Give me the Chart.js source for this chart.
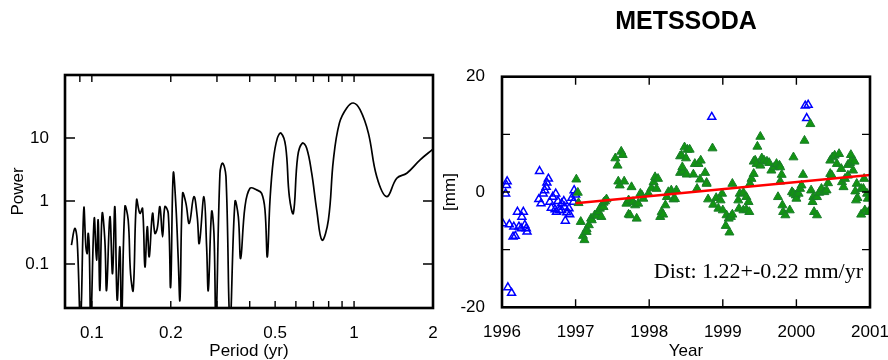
<!DOCTYPE html>
<html>
<head>
<meta charset="utf-8">
<script src="https://cdn.jsdelivr.net/npm/chart.js@4.4.1/dist/chart.umd.min.js"></script>
<style>
  html, body { margin: 0; padding: 0; background: #fff; }
  #wrap { position: relative; width: 888px; height: 360px; overflow: hidden; }
  #periodogram { position: absolute; left: 0; top: 0; }
  #serie { position: absolute; left: 440px; top: 0; }
</style>
</head>
<body>
<div id="wrap">
  <canvas id="periodogram" width="440" height="360" style="width:440px;height:360px"></canvas>
  <canvas id="serie" width="448" height="360" style="width:448px;height:360px"></canvas>
</div>
<script>
'use strict';

/* ── Periodograma (izquierda) ─────────────────────────────────────────── */
const periodYr = [
  0.0836, 0.0861, 0.0879, 0.0905, 0.0932, 0.0949, 0.0960, 0.0968, 0.0977, 0.0991,
  0.1021, 0.1042, 0.1057, 0.1073, 0.1095, 0.1121, 0.1138, 0.1172, 0.1199, 0.1224,
  0.1249, 0.1279, 0.1298, 0.1337, 0.1376, 0.1405, 0.1438, 0.1481, 0.1525, 0.1561,
  0.1594, 0.1627, 0.1655, 0.1704, 0.1740, 0.1776, 0.1818, 0.1861, 0.1899, 0.1956,
  0.1997, 0.2044, 0.2093, 0.2136, 0.2168, 0.2219, 0.2285, 0.2352, 0.2450, 0.2523,
  0.2569, 0.2676, 0.2740, 0.2780, 0.2863, 0.2922, 0.2974, 0.3080, 0.3153, 0.3247,
  0.3364, 0.3515, 0.3619, 0.3694, 0.3837, 0.4010, 0.4251, 0.4442, 0.4574, 0.4669,
  0.4780, 0.4922, 0.5098, 0.5265, 0.5485, 0.5665, 0.5867, 0.6095, 0.6350, 0.6597,
  0.6894, 0.7204, 0.7550, 0.7980, 0.834, 0.879, 0.938, 0.994, 1.054, 1.134,
  1.220, 1.332, 1.455, 1.589, 1.786, 2.0
];
const powerVal = [
  0.199, 0.367, 0.239, 0.012, 0.764, 0.187, 0.147, 0.306, 0.199, 0.012,
  0.530, 0.115, 0.498, 0.038, 0.636, 0.239, 0.038, 0.563, 0.070, 0.812,
  0.027, 0.187, 0.012, 0.812, 0.498, 0.070, 0.038, 1.04, 0.636, 0.764,
  0.090, 0.390, 0.130, 0.636, 0.306, 0.367, 0.812, 0.270, 0.812, 0.636,
  0.043, 2.76, 0.812, 0.115, 0.027, 1.32, 0.918, 0.441, 1.17, 0.563,
  0.212, 1.17, 0.187, 0.038, 0.676, 0.306, 0.012, 2.76, 3.98, 2.44,
  0.012, 0.976, 0.563, 0.122, 0.812, 1.59, 1.50, 1.32, 0.719, 0.130,
  1.04, 4.50, 9.95, 11.96, 7.33, 1.17, 0.636, 5.08, 8.28, 6.90,
  2.76, 0.719, 0.239, 0.498, 4.50, 17.2, 29.9, 35.9, 28.1, 11.96,
  2.44, 1.17, 2.30, 2.76, 4.50, 6.65
];
const periodTicks  = [0.09, 0.1, 0.2, 0.3, 0.4, 0.5, 0.6, 0.7, 0.8, 0.9, 1, 2];
const periodLabels = [0.1, 0.2, 0.5, 1, 2];
const powerTicks   = [0.1, 1, 10];

/* ── Serie temporal (derecha) ─────────────────────────────────────────── */
const yearsBlue = [
  1996.07, 1996.06, 1996.05, 1996.01, 1996.10, 1996.16, 1996.21, 1996.29, 1996.23, 1996.27,
  1996.26, 1996.31, 1996.33, 1996.34, 1996.15, 1996.18, 1996.08, 1996.13, 1996.51, 1996.63,
  1996.61, 1996.60, 1996.58, 1996.56, 1996.50, 1996.53, 1996.65, 1996.69, 1996.73, 1996.67,
  1996.72, 1996.76, 1996.78, 1996.81, 1996.84, 1996.85, 1996.88, 1996.91, 1996.92, 1996.95,
  1996.97, 1996.98, 1997.00, 1996.86, 1996.74, 1996.81, 1998.85, 2000.12, 2000.16, 2000.14
];
const mmBlue = [
  1.84, 1.16, -0.28, -5.45, -5.63, -6.03, -3.45, -3.45, -6.03, -4.31,
  -6.32, -5.74, -6.32, -6.90, -7.76, -7.64, -16.55, -17.52, 3.62, 2.30,
  1.61, 0.86, 0.29, -0.28, -1.26, -2.00, -1.72, -0.86, -0.28, -2.76,
  -3.04, -1.60, -3.16, -2.00, -1.60, -2.59, -3.56, -2.87, -3.90, -1.03,
  -1.72, 0.29, -0.46, -5.00, -3.45, -3.16, 13.0, 14.95, 15.1, 12.8
];
const yearsGreen = [
  1997.01, 1997.03, 1997.04, 1997.07, 1997.10, 1997.12, 1997.15, 1997.18, 1997.21, 1997.15,
  1997.22, 1997.26, 1997.29, 1997.31, 1997.33, 1997.35, 1997.38, 1997.38, 1997.40, 1997.42,
  1997.54, 1997.57, 1997.62, 1997.64, 1997.58, 1997.60, 1997.66, 1997.69, 1997.72, 1997.72,
  1997.74, 1997.76, 1997.78, 1997.81, 1997.83, 1997.85, 1997.88, 1997.90, 1997.92, 1997.99,
  1998.03, 1998.06, 1998.08, 1998.12, 1998.10, 1998.15, 1998.17, 1998.19, 1998.22, 1998.24,
  1998.26, 1998.30, 1998.33, 1998.35, 1998.37, 1998.42, 1998.42, 1998.46, 1998.48, 1998.44,
  1998.50, 1998.52, 1998.55, 1998.45, 1998.51, 1998.60, 1998.62, 1998.67, 1998.70, 1998.69,
  1998.76, 1998.78, 1998.78, 1998.65, 1998.86, 1998.80, 1998.87, 1998.91, 1998.94, 1998.97,
  1998.99, 1999.00, 1999.04, 1999.05, 1999.08, 1999.09, 1999.11, 1999.13, 1999.13, 1999.21,
  1999.23, 1999.28, 1999.32, 1999.35, 1999.22, 1999.28, 1999.32, 1999.36, 1999.37, 1999.39,
  1999.42, 1999.42, 1999.44, 1999.47, 1999.51, 1999.46, 1999.51, 1999.53, 1999.56, 1999.60,
  1999.63, 1999.66, 1999.70, 1999.73, 1999.77, 1999.75, 2000.19, 2000.11, 1999.96, 1999.78,
  1999.80, 1999.78, 1999.81, 1999.82, 1999.85, 1999.91, 1999.94, 1999.96, 1999.99, 2000.00,
  2000.03, 2000.05, 2000.07, 2000.09, 2000.20, 2000.23, 2000.24, 2000.28, 2000.22, 2000.28,
  2000.31, 2000.34, 2000.38, 2000.41, 2000.43, 2000.46, 2000.48, 2000.46, 2000.49, 2000.52,
  2000.55, 2000.58, 2000.61, 2000.62, 2000.64, 2000.66, 2000.70, 2000.70, 2000.73, 2000.75,
  2000.74, 2000.79, 2000.77, 2000.80, 2000.82, 2000.83, 2000.81, 2000.88, 2000.91, 2000.92,
  2000.88, 2000.93, 2000.96, 2000.97, 2000.98
];
const mmGreen = [
  2.19, -0.11, -1.90, -5.17, -7.59, -8.33, -6.43, -5.74, -4.60, -6.90,
  -4.88, -4.02, -4.10, -3.45, -2.87, -4.31, -2.59, -1.83, -1.60, -1.26,
  5.86, 4.60, 7.02, 6.44, 1.84, 1.16, 1.84, -2.00, -1.43, -3.90,
  -4.02, 0.86, -1.72, -2.29, -4.60, -2.00, -0.28, -0.57, -1.14, -0.28,
  0.69, 1.72, 2.59, 2.30, 0.57, -4.31, -3.45, -3.90, -2.29, -0.86,
  0.00, 0.29, -1.26, -1.20, 0.29, 6.21, 3.34, 3.56, 7.76, 6.33,
  5.86, 7.36, 7.36, 4.31, 3.05, 3.05, 4.89, 4.89, 5.47, 2.19,
  3.34, 1.61, 1.44, 0.57, 7.59, -1.26, -2.18, -1.03, -2.87, -1.43,
  -0.28, -3.16, -5.86, -4.02, -4.60, -7.00, -4.30, -3.90, 1.44, -1.43,
  -0.28, -0.11, -0.86, -1.72, -2.87, -3.16, -3.04, -3.45, 1.44, 2.30,
  3.16, 5.29, 5.47, 7.88, 9.60, 4.89, 4.60, 5.86, 5.47, 5.29,
  5.06, 3.74, 4.31, 4.89, 4.60, -0.86, 11.8, 8.91, 6.03, 4.31,
  3.00, 1.84, -2.29, -3.45, -4.02, -3.16, 0.00, -0.28, -0.57, -1.14,
  -0.28, 0.57, 1.16, 3.00, 0.29, -0.86, -3.45, -4.02, -1.72, -0.86,
  -0.11, 0.57, 0.00, 0.29, 1.55, 3.16, 2.90, 5.47, 6.03, 6.33,
  4.89, 6.61, 4.02, 1.72, 0.86, 2.30, 2.87, 4.72, 5.06, 5.47,
  6.44, 5.29, 3.74, 0.12, 1.44, -1.03, -1.43, 0.57, 0.57, 2.30,
  -3.90, -3.16, -0.28, -1.14, -3.45
];
const trendYears = [1997, 2001];
const trendMm    = [-1.95, 2.93];
const rateLabel  = 'Dist: 1.22+-0.22 mm/yr';

/* ── Estilo común ─────────────────────────────────────────────────────── */
Chart.defaults.font.family = '"Liberation Sans", Arial, sans-serif';
Chart.defaults.font.size = 17;
Chart.defaults.color = '#000';

const toXY = (xs, ys) => xs.map((x, i) => ({ x, y: ys[i] }));

// Sin relleno lateral por las etiquetas extremas: el área queda fija
const sinRelleno = s => { s.paddingLeft = 0; s.paddingRight = 0; };

// Marco grueso + ticks hacia dentro en los cuatro lados
const marcoTicks = {
    id: 'marcoTicks',
    afterDatasetsDraw(chart, args, opts) {
        const { ctx, chartArea: a } = chart;
        const sx = chart.scales.x, sy = chart.scales.y;
        ctx.save();
        ctx.strokeStyle = '#000';
        ctx.lineWidth = 1.4;
        ctx.beginPath();
        sx.ticks.forEach(t => {
            const px = sx.getPixelForValue(t.value);
            if (px <= a.left + 1 || px >= a.right - 1) return;
            ctx.moveTo(px, a.top);    ctx.lineTo(px, a.top + opts.xLen);
            ctx.moveTo(px, a.bottom); ctx.lineTo(px, a.bottom - opts.xLen);
        });
        sy.ticks.forEach(t => {
            const py = sy.getPixelForValue(t.value);
            if (py <= a.top + 1 || py >= a.bottom - 1) return;
            ctx.moveTo(a.left, py);  ctx.lineTo(a.left + opts.yLen, py);
            ctx.moveTo(a.right, py); ctx.lineTo(a.right - opts.yLen, py);
        });
        ctx.stroke();
        ctx.lineWidth = 2.6;
        ctx.strokeRect(a.left, a.top, a.right - a.left, a.bottom - a.top);
        ctx.restore();
    }
};

// Texto de la tasa dentro del gráfico
const textoTasa = {
    id: 'textoTasa',
    afterDraw(chart, args, opts) {
        const { ctx, chartArea: a } = chart;
        ctx.save();
        ctx.font = '22px "Liberation Serif", "Times New Roman", serif';
        ctx.fillStyle = '#000';
        ctx.textAlign = 'right';
        ctx.textBaseline = 'alphabetic';
        ctx.fillText(opts.text, a.right - 7, a.bottom - 29);
        ctx.restore();
    }
};

/* ── Gráfico izquierdo: Power vs Period ───────────────────────────────── */
new Chart(document.getElementById('periodogram'), {
    type: 'scatter',
    data: {
        datasets: [{
            data: toXY(periodYr, powerVal),
            showLine: true,
            borderColor: '#000',
            borderWidth: 1.7,
            pointRadius: 0,
            tension: 0.4
        }]
    },
    options: {
        responsive: false,
        animation: false,
        layout: { padding: { top: 75, right: 7, left: 0, bottom: 0 } },
        plugins: {
            legend: { display: false },
            tooltip: { enabled: false },
            marcoTicks: { xLen: 7, yLen: 10 }
        },
        scales: {
            x: {
                type: 'logarithmic',
                min: 0.079,
                max: 2,
                grid: { display: false },
                border: { display: false },
                afterBuildTicks: s => { s.ticks = periodTicks.map(v => ({ value: v })); },
                afterFit: s => { s.height = 52; sinRelleno(s); },
                ticks: {
                    autoSkip: false,
                    maxRotation: 0,
                    padding: 7,
                    callback: v => periodLabels.includes(v) ? String(v) : ''
                },
                title: {
                    display: true,
                    text: 'Period (yr)',
                    font: { size: 17, lineHeight: 1 },
                    padding: { top: 0, bottom: 0 }
                }
            },
            y: {
                type: 'logarithmic',
                min: 0.02,
                max: 100,
                grid: { display: false },
                border: { display: false },
                afterBuildTicks: s => { s.ticks = powerTicks.map(v => ({ value: v })); },
                afterFit: s => { s.width = 65; },
                ticks: {
                    padding: 8,
                    callback: v => String(v)
                },
                title: {
                    display: true,
                    text: 'Power',
                    font: { size: 17, lineHeight: 1 },
                    padding: { top: 10, bottom: 0 }
                }
            }
        }
    },
    plugins: [marcoTicks]
});

/* ── Gráfico derecho: serie METSSODA ──────────────────────────────────── */
new Chart(document.getElementById('serie'), {
    type: 'scatter',
    data: {
        datasets: [
            {
                data: toXY(trendYears, trendMm),
                showLine: true,
                borderColor: '#ff0000',
                borderWidth: 2.5,
                pointRadius: 0
            },
            {
                data: toXY(yearsGreen, mmGreen),
                pointStyle: 'triangle',
                pointRadius: 5.2,
                pointBackgroundColor: '#129412',
                pointBorderColor: '#1a7d2a',
                pointBorderWidth: 1
            },
            {
                data: toXY(yearsBlue, mmBlue),
                pointStyle: 'triangle',
                pointRadius: 4.6,
                pointBackgroundColor: 'rgba(255,255,255,0)',
                pointBorderColor: '#0000ff',
                pointBorderWidth: 1.5
            }
        ]
    },
    options: {
        responsive: false,
        animation: false,
        layout: { padding: { top: 0, right: 18, left: 0, bottom: 0 } },
        plugins: {
            legend: { display: false },
            tooltip: { enabled: false },
            title: {
                display: true,
                text: 'METSSODA',
                fullSize: false,
                font: { size: 25, weight: 'bold', lineHeight: 1 },
                color: '#000',
                padding: { top: 10, bottom: 41.7 }
            },
            marcoTicks: { xLen: 8, yLen: 8 },
            textoTasa: { text: rateLabel }
        },
        scales: {
            x: {
                type: 'linear',
                min: 1996,
                max: 2001,
                grid: { display: false },
                border: { display: false },
                afterFit: s => { s.height = 52.7; sinRelleno(s); },
                ticks: {
                    stepSize: 1,
                    maxRotation: 0,
                    padding: 7,
                    callback: v => String(v)
                },
                title: {
                    display: true,
                    text: 'Year',
                    font: { size: 17, lineHeight: 1 },
                    padding: { top: 0, bottom: 0 }
                }
            },
            y: {
                min: -20,
                max: 20,
                grid: { display: false },
                border: { display: false },
                afterFit: s => { s.width = 62; },
                ticks: {
                    stepSize: 10,
                    padding: 9,
                    callback: v => (v % 20 === 0 ? String(v) : '')
                },
                title: {
                    display: true,
                    text: '[mm]',
                    font: { size: 17, lineHeight: 1 },
                    padding: { top: 2, bottom: 0 }
                }
            }
        }
    },
    plugins: [marcoTicks, textoTasa]
});
</script>
</body>
</html>
